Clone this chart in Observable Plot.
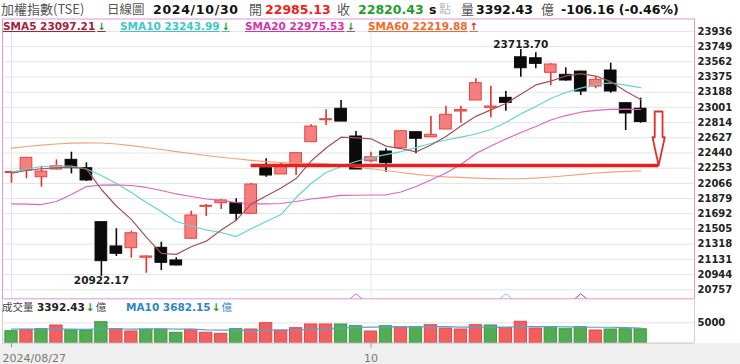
<!DOCTYPE html>
<html>
<head>
<meta charset="utf-8">
<script src="https://cdn.jsdelivr.net/npm/d3@7"></script>
<script src="https://cdn.jsdelivr.net/npm/@observablehq/plot@0.6"></script>
<style>
html,body{margin:0;padding:0;background:#fff;}
#wrap{position:relative;width:740px;height:364px;overflow:hidden;background:#fff;}
#band{position:absolute;left:0;top:343px;width:740px;height:21px;background:#efefef;}
</style>
</head>
<body>
<div id="wrap"><div id="band"></div></div>
<script>
// ---------------- data ----------------
const dates = ["2024/08/27","2024/08/28","2024/08/29","2024/08/30","2024/09/02","2024/09/03","2024/09/04","2024/09/05","2024/09/06","2024/09/09","2024/09/10","2024/09/11","2024/09/12","2024/09/13","2024/09/16","2024/09/18","2024/09/19","2024/09/20","2024/09/23","2024/09/24","2024/09/25","2024/09/26","2024/09/27","2024/09/30","2024/10/01","2024/10/04","2024/10/07","2024/10/08","2024/10/09","2024/10/11","2024/10/14","2024/10/15","2024/10/16","2024/10/17","2024/10/18","2024/10/21","2024/10/22","2024/10/23","2024/10/24","2024/10/25","2024/10/28","2024/10/29","2024/10/30"];
const opens  = [22194,22225,22142,22237,22356,22253,21589,21290,21269,21151,21274,21118,21385,21778,21822,21822,21692,22253,22176,22286,22573,22843,22984,22643,22339,22458,22499,22696,22634,22729,22950,23086,22996,23119,23618,23606,23427,23402,23442,23258,23455,23053,22985.13];
const highs  = [22216,22385,22278,22356,22450,22320,21592,21508,21478,21175,21343,21151,21724,21806,21868,21877,22065,22369,22319,22440,22787,22971,23086,22704,22450,22492,22717,22700,22889,23016,23016,23353,23262,23197,23713.70,23673,23540,23488,23445,23381,23545,23058,23115];
const lows   = [22068,22123,22019,22230,22184,22089,20922.17,21167,21146,20960,20995,21050,21380,21659,21745,21602,21683,22142,22176,22163,22573,22778,22827,22237,22319,22204,22499,22430,22630,22729,22807,23086,22873,22954,23372,23476,23270,23323,23147,23230,23175,22717,22807];
const closes = [22206,22381,22212,22278,22253,22102,21109,21200,21453,21167,21089,21056,21671,21790,21856,21692,22052,22163,22286,22438,22766,22856,22827,22237,22388,22315,22708,22615,22664,22910,22969,23299,23012,23057,23483,23537,23529,23332,23197,23340,23197,22926.59,22820.43];
const closeBefore = 22320;
const volumes = [2921,3267,3416,4332,3094,3094,5149,3416,2847,3267,3342,2525,3267,2525,2277,3416,3342,4901,3094,3663,4579,4579,4579,4158,2847,4158,3911,3911,4406,3589,3342,4406,4332,3762,5248,3589,3911,3416,3911,3094,3342,3410,3392.43];
const volMA10 = [3420,3410,3400,3430,3410,3390,3480,3470,3440,3480,3522,3448,3433,3253,3171,3203,3022,3171,3196,3235,3359,3564,3696,3859,3916,3990,4047,3948,4079,4072,3948,3931,3906,3866,4107,4050,4050,4000,3951,3901,3901,3795,3682.15];
const sma5  = [22191,22225,22246,22256,22266,22245,21991,21788,21623,21406,21204,21193,21287,21355,21492,21613,21812,21911,22010,22126,22341,22502,22635,22625,22615,22525,22495,22453,22538,22642,22773,22891,22971,23049,23164,23278,23324,23388,23416,23387,23319,23199,23097.21];
const sma10 = [22204,22243,22274,22280,22278,22243,22163,22065,21954,21831,21720,21597,21542,21493,21462,21412,21507,21597,21683,21892,22065,22200,22274,22335,22385,22421,22458,22507,22557,22600,22636,22674,22729,22815,22922,23012,23110,23184,23239,23283,23304,23276,23243.99];
const sma20 = [21815,21810,21806,21843,21929,22027,22046,22049,22040,22016,21979,21936,21905,21874,21856,21831,21815,21815,21819,21843,21874,21893,21918,21920,21923,21926,21960,22028,22108,22194,22299,22434,22526,22612,22692,22766,22846,22901,22942,22965,22977,22981,22975.53];
const sma60 = [22499,22520,22538,22551,22561,22565,22563,22551,22532,22508,22483,22458,22434,22409,22388,22369,22350,22335,22323,22315,22311,22307,22286,22265,22246,22225,22200,22176,22160,22147,22139,22132,22126,22123,22123,22132,22145,22160,22176,22194,22205,22214,22219.88];
const yTicks = [20757,20944,21131,21318,21505,21692,21879,22066,22253,22440,22627,22814,23001,23188,23375,23562,23749,23936];
const volTicks = [5000];
const xTickIdx = [0, 24];
const xTickLabels = ["2024/08/27", "10"];
// annotation: support line and arrow (index / price)
const supportLevel = 22286, supportFrom = 16;
const arrowAt = 43.2, arrowTop = 22951, arrowNeck = 22634;

// ---------------- styles ----------------
const RED = "#e8312c", RED_FILL = "#f77e7e", RED_EDGE = "#e4463f", BLACK = "#0b0b0b";
const VRED = "#f25f5f", VRED_EDGE = "#e04848", VGREEN = "#52ad52", VGREEN_EDGE = "#3d983f";
const maPeriods = [5, 10, 20, 60];
const maSeries = {5: sma5, 10: sma10, 20: sma20, 60: sma60};
const maLine = {5: "#a3525a", 10: "#62d6cf", 20: "#e063c0", 60: "#f2a275"};
const maText = {5: "#a2223a", 10: "#3fc6cc", 20: "#d236a6", 60: "#f06a2c"};

const N = closes.length;
const idx = d3.range(N);
const candles = idx.map(i => ({i, o: opens[i], h: highs[i], l: lows[i], c: closes[i]}));
const isUp = d => d.c >= d.o;
const xDom = [-0.601, 45.594];
const yDom = [20646, 24089];
const baseStyle = {fontFamily: "DejaVu Sans, Verdana, sans-serif", fontSize: "10px", fontWeight: "bold", color: "#222", background: "transparent", overflow: "visible"};

const maxI = d3.maxIndex(highs), minI = d3.minIndex(lows);
const sh = 0.26, hh = 0.41;
const arrowPts = [[arrowAt-sh, arrowTop],[arrowAt+sh, arrowTop],[arrowAt+sh, arrowNeck],[arrowAt+hh, arrowNeck],[arrowAt, supportLevel],[arrowAt-hh, arrowNeck],[arrowAt-sh, arrowNeck],[arrowAt-sh, arrowTop]];
const chevron = {draw(ctx) { ctx.moveTo(-6, 0); ctx.lineTo(0, -5); ctx.lineTo(6, 0); }};

const main = Plot.plot({
  width: 740, height: 300,
  marginTop: 18.5, marginBottom: 1.7, marginLeft: 2, marginRight: 46,
  x: {type: "linear", domain: xDom, axis: null, label: null},
  y: {type: "linear", domain: yDom, axis: null, label: null},
  style: baseStyle,
  marks: [
    Plot.gridY(yTicks, {stroke: "#e4e4e4", strokeOpacity: 1}),
    Plot.ruleX(xTickIdx, {stroke: "#e4e4e4"}),
    Plot.ruleX(candles, {x: "i", y1: "l", y2: "h", stroke: d => isUp(d) ? RED : BLACK, strokeWidth: 1.6}),
    Plot.rect(candles, {x1: d => d.i - 0.39, x2: d => d.i + 0.39, y1: "o", y2: "c",
      fill: d => isUp(d) ? RED_FILL : BLACK, stroke: d => isUp(d) ? RED_EDGE : BLACK, strokeWidth: 1}),
    ...maPeriods.slice().reverse().map(p => Plot.line(idx, {x: i => i, y: i => maSeries[p][i], stroke: maLine[p], strokeWidth: 1.2})),
    Plot.ruleY([supportLevel], {x1: supportFrom, x2: arrowAt, stroke: "#e02222", strokeWidth: 3.4}),
    Plot.line(arrowPts, {x: d => d[0], y: d => d[1], stroke: "#e23030", strokeWidth: 1.8, fill: "white"}),
    Plot.text([maxI], {x: i => i, y: i => highs[i], text: i => highs[i].toFixed(2), lineAnchor: "bottom", dy: -1, fontSize: 10.5, fill: "#222"}),
    Plot.text([minI], {x: i => i, y: i => lows[i], text: i => lows[i].toFixed(2), lineAnchor: "top", dy: 0, fontSize: 10.5, fill: "#222"}),
    Plot.dot([5, 10, 20], {x: p => N - p, y: () => yDom[0], symbol: chevron, stroke: p => maLine[p], fill: "none", strokeWidth: 1}),
    Plot.axisY(yTicks, {anchor: "right", tickSize: 0, tickPadding: 3, fill: "#222", tickFormat: d => String(d), label: null}),
    Plot.frame({stroke: "#e095e0"})
  ]
});
main.style.position = "absolute"; main.style.left = "0px"; main.style.top = "0px";

const volColor = i => (closes[i] >= (i ? closes[i-1] : closeBefore));
const vol = Plot.plot({
  width: 740, height: 66,
  marginTop: 2, marginBottom: 21.5, marginLeft: 2, marginRight: 46,
  x: {type: "linear", domain: xDom, axis: null, label: null},
  y: {type: "linear", domain: [0, 10520], axis: null, label: null},
  style: baseStyle,
  marks: [
    Plot.frame({fill: "white", stroke: null}),
    Plot.gridY(volTicks, {stroke: "#e4e4e4", strokeOpacity: 1}),
    Plot.rect(idx, {x1: i => i - 0.41, x2: i => i + 0.41, y1: 0, y2: i => volumes[i],
      fill: i => volColor(i) ? VRED : VGREEN, stroke: i => volColor(i) ? VRED_EDGE : VGREEN_EDGE, strokeWidth: 1}),
    Plot.line(idx, {x: i => i, y: i => volMA10[i], stroke: "#5b9fd8", strokeWidth: 1.2}),
    Plot.ruleY([0], {stroke: "#c4c4c4"}),
    Plot.ruleX(xDom, {stroke: "#d0d0d0"}),
    Plot.axisY(volTicks, {anchor: "right", tickSize: 0, tickPadding: 3, fill: "#222", tickFormat: d => String(d), label: null}),
    Plot.axisX(xTickIdx, {tickSize: 5, tickFormat: () => "", stroke: "#999", label: null}),
    Plot.text(xTickIdx.map((d, k) => ({i: d, k})), {filter: d => d.k === 0, x: "i", text: d => xTickLabels[d.k], frameAnchor: "bottom", lineAnchor: "bottom", textAnchor: "start", dx: -9, dy: 19.2, fill: "#777", fontSize: 11, fontWeight: "normal"}),
    Plot.text(xTickIdx.map((d, k) => ({i: d, k})), {filter: d => d.k > 0, x: "i", text: d => xTickLabels[d.k], frameAnchor: "bottom", lineAnchor: "bottom", textAnchor: "middle", dy: 19.2, fill: "#777", fontSize: 11, fontWeight: "normal"})
  ]
});
vol.style.position = "absolute"; vol.style.left = "0px"; vol.style.top = "298px";

const wrap = document.getElementById("wrap");
wrap.appendChild(main);
wrap.appendChild(vol);

// ---------------- header, legends (text overlay) ----------------
const LAT = "DejaVu Sans, Verdana, sans-serif";
const CJK = "'Noto Sans CJK TC', 'Noto Sans CJK SC', sans-serif";
const ov = d3.create("svg").attr("width", 740).attr("height", 364)
  .style("position", "absolute").style("left", "0px").style("top", "0px").style("pointer-events", "none");
function put(x, y, s, o = {}) {
  const t = ov.append("text").attr("x", x).attr("y", y)
    .attr("font-family", o.cjk ? CJK : LAT)
    .attr("font-size", o.size || 12.5)
    .attr("font-weight", o.bold ? "bold" : "normal")
    .attr("fill", o.color || "#111").text(s);
  if (o.len) t.attr("textLength", o.len).attr("lengthAdjust", "spacing");
  return t;
}
const last = N - 1;
const chg = closes[last] - closes[last - 1];
const pct = chg / closes[last - 1] * 100;
const HB = 13.5;
put(1, 14, "加權指數(TSE)", {cjk: true, size: 13, color: "#555"});
put(107, 14, "日線圖", {cjk: true, size: 12.5, color: "#555"});
put(153, HB, dates[last], {bold: true, len: 85});
put(249, 14, "開", {cjk: true, size: 13, color: "#555"});
put(265, HB, opens[last].toFixed(2), {bold: true, color: "#f01e1e"});
put(337, 14, "收", {cjk: true, size: 13, color: "#555"});
put(358, HB, closes[last].toFixed(2), {bold: true, color: "#1f9e2a"});
put(429, HB, "s", {bold: true});
put(439, 14, "點", {cjk: true, size: 12, color: "#bbb"});
put(461, 14, "量", {cjk: true, size: 13, color: "#555"});
put(476, HB, volumes[last].toFixed(2), {bold: true});
put(541, 14, "億", {cjk: true, size: 13, color: "#555"});
put(561, HB, `${chg.toFixed(2)} (${pct.toFixed(2)}%)`, {bold: true});

const legendX = {5: 3, 10: 120, 20: 245, 60: 368};
for (const p of maPeriods) {
  const s = maSeries[p];
  const upA = s[last] >= s[last - 1];
  const t = put(legendX[p], 30, `SMA${p} ${s[last].toFixed(2)}`, {bold: true, size: 10.5, color: maText[p]})
    .style("text-decoration", "underline");
  t.append("tspan").attr("dx", 2).attr("font-size", 10).attr("fill", upA ? "#e8231f" : "#1e9a2a").text(upA ? "↑" : "↓");
}
// volume legend
put(2, 311, "成交量", {cjk: true, size: 10.5, color: "#444"});
const vUp = volumes[last] >= volumes[last-1];
const vt = put(37, 311, volumes[last].toFixed(2), {bold: true, size: 10.5, color: "#222"});
vt.append("tspan").attr("dx", 1).attr("fill", vUp ? "#e8231f" : "#1e9a2a").text(vUp ? "↑" : "↓");
vt.append("tspan").attr("dx", 1).attr("font-family", CJK).attr("font-weight", "normal").attr("fill", "#444").text("億");
const mUp = volMA10[last] >= volMA10[last-1];
const mt = put(126, 311, `MA10 ${volMA10[last].toFixed(2)}`, {bold: true, size: 10.5, color: "#2f86c8"});
mt.append("tspan").attr("dx", 1).attr("fill", mUp ? "#e8231f" : "#1e9a2a").text(mUp ? "↑" : "↓");
mt.append("tspan").attr("dx", 1).attr("font-family", CJK).attr("font-weight", "normal").attr("fill", "#2f86c8").text("億");

wrap.appendChild(ov.node());
</script>
</body>
</html>
